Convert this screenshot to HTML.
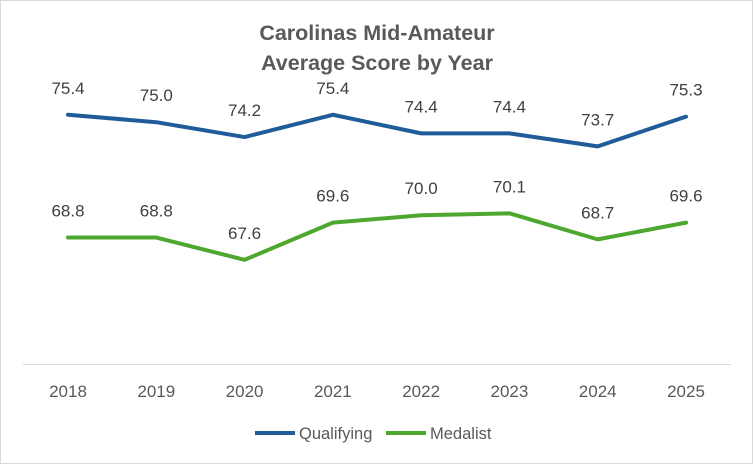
<!DOCTYPE html>
<html><head><meta charset="utf-8"><style>
body{margin:0;background:#fff;}
svg{display:block;font-family:"Liberation Sans",Arial,sans-serif;}
</style></head><body>
<svg width="753" height="464">
<rect x="0.5" y="0.5" width="752" height="463" fill="#fff" stroke="#d9d9d9"/>
<text x="377" y="40" text-anchor="middle" font-size="21.5" font-weight="bold" fill="#595959">Carolinas Mid-Amateur</text>
<text x="377" y="70" text-anchor="middle" font-size="21.5" font-weight="bold" fill="#595959">Average Score by Year</text>
<line x1="23" y1="364.5" x2="731" y2="364.5" stroke="#d9d9d9"/>
<g id="plot"></g>
<g>
<line x1="255" y1="433" x2="295" y2="433" stroke="#1f5c99" stroke-width="4"/>
<text x="299" y="439" font-size="16.5" fill="#595959">Qualifying</text>
<line x1="386" y1="433" x2="426" y2="433" stroke="#4ea72e" stroke-width="4"/>
<text x="430" y="439" font-size="16.5" fill="#595959">Medalist</text>
</g>
</svg>
<script>
const years = ["2018","2019","2020","2021","2022","2023","2024","2025"];
const qualifying = [75.4,75.0,74.2,75.4,74.4,74.4,73.7,75.3];
const medalist = [68.8,68.8,67.6,69.6,70.0,70.1,68.7,69.6];
const yMin = 62, yMax = 78;
const ns = "http://www.w3.org/2000/svg";
const g = document.getElementById('plot');
function xPos(i){return 68 + i*(686-68)/(years.length-1);}
function yPos(v){return 364 - (v-yMin)*(364-66.4)/(yMax-yMin);}
years.forEach((yr,i)=>{
  const t=document.createElementNS(ns,'text');
  t.setAttribute('x',xPos(i));t.setAttribute('y',397);
  t.setAttribute('text-anchor','middle');t.setAttribute('font-size','17');t.setAttribute('fill','#595959');
  t.textContent=yr;
  
  
  g.appendChild(t);
});
function series(vals,color,name){
  const p=document.createElementNS(ns,'polyline');
  p.setAttribute('points',vals.map((v,i)=>xPos(i)+','+yPos(v)).join(' '));
  p.setAttribute('fill','none');p.setAttribute('stroke',color);p.setAttribute('stroke-width','4');
  p.setAttribute('stroke-linejoin','round');p.setAttribute('stroke-linecap','round');
  
  
  g.appendChild(p);
  vals.forEach((v,i)=>{
    const t=document.createElementNS(ns,'text');
    t.setAttribute('x',xPos(i));t.setAttribute('y',yPos(v)-21);
    t.setAttribute('text-anchor','middle');t.setAttribute('font-size','17');t.setAttribute('fill','#404040');
    t.textContent=v.toFixed(1);
    
    
    g.appendChild(t);
  });
}
series(qualifying,'#1f5c99','qualifying');
series(medalist,'#4ea72e','medalist');
</script>
</body></html>
